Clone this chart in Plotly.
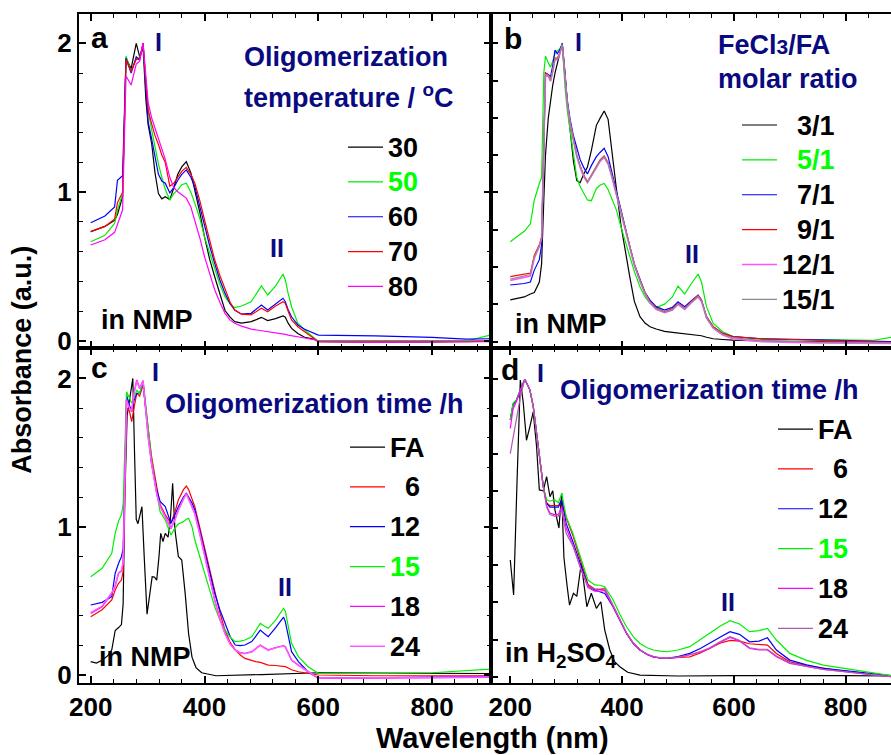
import plotly.graph_objects as go

W, H = 891, 755
FONT = "Liberation Sans, Arial, sans-serif"
NAVY = "#0a0a80"

# ---------------- Panel a : oligomerization temperature (in NMP) ----------------
wl_a = [200, 225, 242, 247, 256, 262, 271, 280, 286, 292, 297, 301, 307, 313, 319, 325, 331, 339, 346, 353,
        360, 368, 376, 383, 392, 400, 409, 418, 427, 436, 445, 453, 465, 482, 492, 500, 511, 525, 538, 542,
        547, 553, 564, 576, 594, 600, 700, 800, 860, 902]
a_30 = [0.735, 0.77, 0.81, 0.85, 0.97, 1.90, 1.83, 2.00, 1.91, 1.97, 1.62, 1.45, 1.33, 1.13, 0.99, 0.955, 0.97, 0.95, 1.03, 1.12,
        1.17, 1.205, 1.13, 1.015, 0.86, 0.70, 0.55, 0.43, 0.31, 0.205, 0.16, 0.13, 0.12, 0.13, 0.145, 0.159, 0.137, 0.15, 0.168, 0.16,
        0.12, 0.085, 0.05, 0.025, 0.011, 0.0, 0.0, -0.002, 0.0, 0.0]
a_50 = [0.667, 0.71, 0.79, 0.88, 0.99, 1.915, 1.81, 1.90, 1.90, 2.0, 1.72, 1.55, 1.42, 1.30, 1.19, 1.10, 1.02, 0.948, 0.99, 1.015,
        1.05, 1.06, 1.00, 0.925, 0.82, 0.70, 0.59, 0.477, 0.38, 0.298, 0.25, 0.224, 0.235, 0.264, 0.32, 0.37, 0.309, 0.37, 0.45, 0.41,
        0.32, 0.23, 0.12, 0.074, 0.018, -0.005, -0.01, -0.01, 0.0, 0.04]
a_60 = [0.795, 0.84, 0.90, 1.08, 1.11, 1.90, 1.80, 1.91, 1.89, 2.0, 1.70, 1.47, 1.36, 1.24, 1.12, 1.075, 1.06, 0.995, 1.03, 1.08,
        1.12, 1.15, 1.10, 1.037, 0.90, 0.77, 0.64, 0.52, 0.41, 0.32, 0.25, 0.208, 0.18, 0.186, 0.22, 0.242, 0.208, 0.25, 0.287, 0.264,
        0.21, 0.163, 0.108, 0.079, 0.052, 0.04, 0.035, 0.025, 0.012, 0.015]
a_70 = [0.735, 0.77, 0.82, 0.93, 1.00, 1.89, 1.81, 1.893, 1.89, 2.0, 1.74, 1.55, 1.46, 1.38, 1.32, 1.25, 1.20, 1.04, 1.06, 1.10,
        1.14, 1.167, 1.12, 1.06, 0.94, 0.813, 0.68, 0.544, 0.44, 0.343, 0.26, 0.208, 0.18, 0.175, 0.20, 0.22, 0.197, 0.235, 0.264, 0.253,
        0.20, 0.141, 0.096, 0.0625, 0.011, -0.005, -0.008, -0.008, -0.005, 0.0]
a_80 = [0.645, 0.68, 0.73, 0.78, 0.88, 1.78, 1.72, 1.86, 1.88, 2.0, 1.76, 1.60, 1.50, 1.43, 1.36, 1.30, 1.22, 1.10, 1.03, 1.003,
        0.98, 0.96, 0.90, 0.813, 0.69, 0.567, 0.45, 0.343, 0.26, 0.186, 0.14, 0.119, 0.10, 0.08, 0.074, 0.07, 0.062, 0.055, 0.047, 0.045,
        0.04, 0.035, 0.028, 0.02, 0.008, -0.005, -0.01, -0.01, -0.008, -0.005]

# ---------------- Panel b : FeCl3/FA molar ratio (in NMP) ----------------
wl_b = [200, 225, 236, 243, 252, 256, 260, 263, 268, 272, 276, 280, 284, 288, 293, 298, 302, 307, 313, 319,
        325, 331, 338, 345, 354, 361, 368, 375, 382, 390, 398, 406, 414, 422, 432, 441, 450, 461, 476, 490,
        500, 512, 524, 536, 542, 551, 563, 580, 598, 650, 750, 850, 882]
b_3 = [0.28, 0.30, 0.32, 0.33, 0.40, 0.52, 0.95, 1.25, 1.50, 1.62, 1.72, 1.80, 1.86, 1.92, 2.0, 1.80, 1.60, 1.42, 1.21, 1.08,
       1.066, 1.12, 1.17, 1.28, 1.45, 1.50, 1.546, 1.49, 1.26, 1.02, 0.78, 0.59, 0.43, 0.27, 0.168, 0.125, 0.10, 0.085, 0.07, 0.063,
       0.058, 0.052, 0.045, 0.043, 0.04, 0.03, 0.02, 0.015, 0.011, 0.005, 0.0, -0.005, -0.005]
b_5 = [0.67, 0.74, 0.79, 0.95, 1.06, 1.10, 1.80, 1.915, 1.87, 1.84, 1.88, 1.93, 1.95, 1.96, 1.995, 1.70, 1.55, 1.42, 1.24, 1.10,
       1.04, 1.00, 0.95, 0.945, 1.027, 1.05, 1.06, 1.02, 0.96, 0.88, 0.77, 0.67, 0.57, 0.47, 0.369, 0.30, 0.257, 0.23, 0.252, 0.30,
       0.373, 0.32, 0.39, 0.454, 0.40, 0.235, 0.123, 0.067, 0.034, 0.016, 0.015, 0.01, 0.03]
b_7 = [0.38, 0.39, 0.40, 0.48, 0.55, 0.65, 1.30, 1.80, 1.79, 1.776, 1.85, 1.955, 1.93, 1.95, 1.995, 1.78, 1.62, 1.49, 1.38, 1.30,
       1.22, 1.17, 1.124, 1.18, 1.24, 1.27, 1.296, 1.24, 1.13, 1.00, 0.88, 0.76, 0.637, 0.52, 0.413, 0.33, 0.279, 0.235, 0.212, 0.23,
       0.268, 0.235, 0.275, 0.313, 0.28, 0.168, 0.10, 0.056, 0.034, 0.02, 0.012, 0.005, 0.0]
b_9 = [0.436, 0.45, 0.46, 0.58, 0.65, 0.70, 1.40, 1.80, 1.79, 1.754, 1.82, 1.90, 1.90, 1.93, 1.99, 1.76, 1.60, 1.47, 1.35, 1.25,
       1.18, 1.12, 1.072, 1.12, 1.18, 1.22, 1.245, 1.20, 1.11, 0.99, 0.87, 0.75, 0.63, 0.52, 0.413, 0.33, 0.268, 0.225, 0.201, 0.22,
       0.257, 0.223, 0.27, 0.31, 0.28, 0.168, 0.10, 0.056, 0.034, 0.02, 0.01, 0.0, -0.005]
b_12 = [0.41, 0.43, 0.44, 0.56, 0.64, 0.69, 1.38, 1.78, 1.78, 1.745, 1.81, 1.89, 1.89, 1.92, 1.99, 1.75, 1.59, 1.46, 1.34, 1.24,
        1.17, 1.11, 1.065, 1.11, 1.17, 1.21, 1.235, 1.19, 1.10, 0.98, 0.86, 0.74, 0.62, 0.51, 0.405, 0.32, 0.26, 0.218, 0.195, 0.213,
        0.25, 0.217, 0.262, 0.30, 0.27, 0.16, 0.09, 0.045, 0.02, 0.0, -0.008, -0.01, -0.012]
b_15 = [0.42, 0.44, 0.45, 0.57, 0.64, 0.69, 1.39, 1.79, 1.785, 1.75, 1.815, 1.895, 1.895, 1.925, 1.99, 1.755, 1.595, 1.465, 1.345, 1.245,
        1.175, 1.115, 1.068, 1.115, 1.175, 1.215, 1.24, 1.195, 1.105, 0.985, 0.865, 0.745, 0.625, 0.515, 0.41, 0.325, 0.263, 0.22, 0.197, 0.215,
        0.252, 0.219, 0.265, 0.305, 0.275, 0.163, 0.095, 0.05, 0.027, 0.008, -0.003, -0.005, -0.008]

# ---------------- Panel c : oligomerization time (in NMP) ----------------
wl_c_fa = [200, 210, 220, 230, 237, 243, 249, 254, 257, 260, 264, 268, 274, 277, 280, 283, 286, 290, 294, 299,
           304, 308, 312, 316, 320, 323, 327, 331, 336, 340, 344, 348, 354, 360, 366, 372, 378, 385, 395, 420,
           500, 600, 700, 800, 903]
c_fa = [0.09, 0.08, 0.10, 0.13, 0.17, 0.30, 0.32, 0.34, 0.48, 1.20, 1.75, 1.85, 2.0, 1.50, 1.05, 1.02, 1.08, 1.135, 0.80, 0.41,
        0.55, 0.663, 0.66, 0.64, 0.80, 0.955, 0.90, 0.955, 0.93, 1.05, 1.293, 0.98, 0.80, 0.775, 0.55, 0.28, 0.12, 0.05, 0.015, -0.005,
        0.003, 0.015, 0.012, 0.01, 0.01]
wl_c = [200, 220, 237, 243, 249, 254, 257, 260, 263, 268, 272, 276, 281, 286, 292, 296, 301, 307, 316, 322,
        331, 336, 341, 348, 354, 363, 368, 372, 378, 383, 392, 401, 410, 418, 427, 436, 445, 454, 463, 471,
        483, 490, 498, 505, 512, 525, 539, 542, 548, 553, 565, 582, 600, 700, 800, 903]
c_6 = [0.393, 0.44, 0.506, 0.573, 0.618, 0.64, 0.70, 1.30, 1.80, 1.78, 1.708, 1.80, 1.90, 1.88, 1.955, 1.82, 1.65, 1.472, 1.27, 1.15,
       1.08, 1.05, 1.023, 1.10, 1.18, 1.25, 1.274, 1.25, 1.19, 1.135, 0.99, 0.843, 0.69, 0.551, 0.42, 0.303, 0.22, 0.169, 0.135, 0.112,
       0.095, 0.09, 0.085, 0.075, 0.067, 0.064, 0.061, 0.056, 0.045, 0.035, 0.022, 0.011, 0.0, -0.005, -0.005, -0.005]
c_12 = [0.472, 0.49, 0.528, 0.686, 0.753, 0.798, 0.85, 1.40, 1.888, 1.82, 1.776, 1.85, 1.90, 1.90, 1.97, 1.82, 1.63, 1.427, 1.248, 1.17,
        1.135, 1.08, 1.023, 1.08, 1.135, 1.20, 1.225, 1.20, 1.16, 1.113, 0.97, 0.82, 0.68, 0.551, 0.44, 0.348, 0.26, 0.202, 0.198, 0.202,
        0.225, 0.26, 0.303, 0.28, 0.258, 0.32, 0.39, 0.36, 0.25, 0.157, 0.09, 0.022, -0.022, -0.02, -0.015, -0.01]
c_15 = [0.663, 0.72, 0.82, 0.955, 1.04, 1.08, 1.15, 1.60, 1.91, 1.87, 1.832, 1.87, 1.92, 1.90, 1.978, 1.85, 1.675, 1.45, 1.225, 1.10,
        1.045, 0.99, 0.944, 0.99, 1.018, 1.034, 1.05, 1.056, 1.0, 0.91, 0.79, 0.663, 0.56, 0.46, 0.37, 0.303, 0.255, 0.225, 0.228, 0.236,
        0.258, 0.30, 0.348, 0.33, 0.315, 0.37, 0.45, 0.43, 0.32, 0.214, 0.124, 0.056, 0.011, 0.01, 0.015, 0.04]
c_18 = [0.416, 0.46, 0.551, 0.60, 0.686, 0.70, 0.75, 1.30, 1.854, 1.80, 1.776, 1.90, 1.99, 1.933, 1.985, 1.82, 1.607, 1.427, 1.225, 1.14,
        1.068, 1.03, 0.989, 1.05, 1.113, 1.19, 1.225, 1.19, 1.14, 1.09, 0.95, 0.798, 0.65, 0.506, 0.38, 0.281, 0.21, 0.169, 0.15, 0.146,
        0.157, 0.18, 0.202, 0.185, 0.169, 0.185, 0.198, 0.19, 0.14, 0.101, 0.067, 0.022, -0.022, -0.02, -0.018, -0.015]
c_24 = [0.42, 0.465, 0.555, 0.605, 0.69, 0.705, 0.755, 1.31, 1.85, 1.80, 1.78, 1.895, 1.985, 1.93, 1.98, 1.815, 1.60, 1.42, 1.22, 1.135,
        1.065, 1.025, 0.985, 1.045, 1.11, 1.185, 1.22, 1.185, 1.135, 1.085, 0.945, 0.795, 0.645, 0.50, 0.375, 0.278, 0.208, 0.167, 0.148, 0.144,
        0.155, 0.178, 0.20, 0.183, 0.167, 0.183, 0.196, 0.188, 0.138, 0.10, 0.066, 0.021, -0.021, -0.019, -0.017, -0.014]

# ---------------- Panel d : oligomerization time (in H2SO4) ----------------
wl_d_fa = [200, 206, 212, 218, 223, 229, 235, 241, 247, 252, 259, 265, 271, 276, 280, 287, 292, 296, 302, 306,
           313, 319, 327, 332, 337, 345, 354, 362, 369, 378, 387, 396, 410, 432, 500, 600, 700, 800, 881]
d_fa = [0.785, 0.55, 1.30, 1.995, 1.85, 1.59, 1.68, 1.78, 1.55, 1.256, 1.25, 1.345, 1.21, 1.25, 1.12, 1.0, 1.233, 0.80, 0.60, 0.482,
        0.561, 0.54, 0.763, 0.60, 0.471, 0.561, 0.46, 0.504, 0.314, 0.18, 0.10, 0.067, 0.03, 0.011, 0.005, 0.008, 0.01, 0.008, 0.005]
wl_d = [200, 205, 211, 218, 226, 235, 241, 247, 253, 259, 265, 271, 279, 286, 292, 300, 312, 327, 339, 351,
        360, 369, 384, 396, 408, 420, 432, 445, 456, 468, 480, 500, 521, 540, 557, 575, 593, 610, 628, 645,
        660, 676, 700, 730, 760, 790, 819, 850, 881]
d_6 = [1.726, 1.83, 1.86, 1.93, 2.0, 1.93, 1.82, 1.64, 1.44, 1.28, 1.17, 1.15, 1.15, 1.15, 1.19, 1.07, 0.95, 0.76, 0.62, 0.59,
       0.585, 0.583, 0.471, 0.38, 0.291, 0.225, 0.18, 0.15, 0.134, 0.126, 0.123, 0.13, 0.134, 0.16, 0.19, 0.225, 0.245, 0.24, 0.222, 0.215,
       0.213, 0.157, 0.10, 0.075, 0.056, 0.042, 0.03, 0.015, 0.0]
d_12 = [1.726, 1.83, 1.86, 1.93, 2.0, 1.93, 1.82, 1.64, 1.44, 1.28, 1.165, 1.14, 1.14, 1.14, 1.19, 1.031, 0.908, 0.739, 0.61, 0.583,
        0.57, 0.56, 0.471, 0.38, 0.291, 0.225, 0.18, 0.15, 0.134, 0.126, 0.123, 0.135, 0.157, 0.19, 0.224, 0.265, 0.303, 0.285, 0.235, 0.24,
        0.262, 0.18, 0.112, 0.08, 0.056, 0.045, 0.034, 0.02, 0.007]
d_15 = [1.726, 1.838, 1.861, 1.93, 2.0, 1.928, 1.816, 1.637, 1.435, 1.278, 1.19, 1.18, 1.19, 1.17, 1.233, 1.076, 0.964, 0.785, 0.65, 0.617,
        0.615, 0.605, 0.516, 0.42, 0.336, 0.27, 0.224, 0.195, 0.18, 0.172, 0.168, 0.18, 0.202, 0.25, 0.291, 0.34, 0.377, 0.355, 0.303, 0.31,
        0.325, 0.247, 0.157, 0.11, 0.078, 0.06, 0.045, 0.025, 0.007]
d_18 = [1.67, 1.80, 1.85, 1.92, 2.0, 1.93, 1.82, 1.64, 1.44, 1.28, 1.15, 1.10, 1.09, 1.09, 1.143, 1.00, 0.886, 0.717, 0.60, 0.575,
        0.575, 0.58, 0.471, 0.38, 0.291, 0.225, 0.18, 0.15, 0.134, 0.126, 0.123, 0.13, 0.146, 0.165, 0.19, 0.23, 0.264, 0.24, 0.19, 0.18,
        0.18, 0.134, 0.09, 0.068, 0.049, 0.037, 0.027, 0.012, 0.0]
d_24 = [1.50, 1.60, 1.72, 1.88, 2.0, 1.93, 1.82, 1.64, 1.44, 1.28, 1.14, 1.09, 1.08, 1.08, 1.12, 0.964, 0.88, 0.717, 0.61, 0.59,
        0.59, 0.595, 0.48, 0.385, 0.295, 0.228, 0.182, 0.152, 0.136, 0.128, 0.125, 0.132, 0.148, 0.17, 0.195, 0.235, 0.27, 0.245, 0.195, 0.185,
        0.185, 0.14, 0.095, 0.07, 0.05, 0.038, 0.028, 0.013, 0.0]

BLACK, GREEN, BLUE, RED, MAG, GRAY = "#000000", "#00ee00", "#0000ff", "#ff0000", "#ff00ff", "#8c8c8c"

fig = go.Figure()


def label(txt, col="#000000"):
    return "<span style='font-size:27px;color:%s'>%s</span>" % (col, txt)


def add(ax, wl, ys, name, color, leg, grp, width=1.2, tcol="#000000"):
    fig.add_trace(go.Scatter(x=wl, y=ys, mode="lines", name=label(name, tcol),
                             line=dict(color=color, width=width), legend=leg, legendgroup=grp,
                             xaxis="x" + ax, yaxis="y" + ax, hoverinfo="skip"))


NB = "&nbsp;&nbsp;"
# panel a
add("", wl_a, a_30, "30", BLACK, "legend", "a1")
add("", wl_a, a_50, "50", GREEN, "legend", "a2", tcol="#00ff00")
add("", wl_a, a_60, "60", BLUE, "legend", "a3")
add("", wl_a, a_70, "70", RED, "legend", "a4")
add("", wl_a, a_80, "80", MAG, "legend", "a5")
# panel b
add("2", wl_b, b_3, NB + "3/1", BLACK, "legend2", "b1")
add("2", wl_b, b_5, NB + "5/1", GREEN, "legend2", "b2", tcol="#00ff00")
add("2", wl_b, b_7, NB + "7/1", BLUE, "legend2", "b3")
add("2", wl_b, b_9, NB + "9/1", RED, "legend2", "b4")
add("2", wl_b, b_12, "12/1", "#ff55ff", "legend2", "b5", width=1.6)
add("2", wl_b, b_15, "15/1", GRAY, "legend2", "b6")
# panel c
add("3", wl_c_fa, c_fa, "FA", BLACK, "legend3", "c1")
add("3", wl_c, c_6, NB + "6", RED, "legend3", "c2")
add("3", wl_c, c_12, "12", BLUE, "legend3", "c3")
add("3", wl_c, c_15, "15", GREEN, "legend3", "c4", tcol="#00ff00")
add("3", wl_c, c_18, "18", MAG, "legend3", "c5", width=1.4)
add("3", wl_c, c_24, "24", "#ff5cff", "legend3", "c6", width=1.4)
# panel d
add("4", wl_d_fa, d_fa, "FA", BLACK, "legend4", "d1")
add("4", wl_d, d_6, NB + "6", RED, "legend4", "d2")
add("4", wl_d, d_12, "12", BLUE, "legend4", "d3")
add("4", wl_d, d_15, "15", GREEN, "legend4", "d4", tcol="#00ff00")
add("4", wl_d, d_18, "18", MAG, "legend4", "d5")
add("4", wl_d, d_24, "24", "#b25ab2", "legend4", "d6")

XL = [79 / W, 490.7 / W]
XR = [490.7 / W, 1.0]
YT = [1 - 348 / H, 1 - 14 / H]
YB = [1 - 683 / H, 1 - 348 / H]
TICKF = dict(family=FONT, size=26, color="black", weight="bold")


def xax(domain, rng, anchor, labels):
    return dict(domain=domain, range=rng, anchor=anchor, showgrid=False, zeroline=False,
                showline=True, linewidth=2, linecolor="black", mirror="ticks",
                ticks="inside", ticklen=7, tickwidth=1.5, tickcolor="black",
                tick0=200, dtick=200, showticklabels=labels, tickfont=TICKF, automargin=False,
                minor=dict(ticks="inside", ticklen=4, tickwidth=1, tickcolor="black", dtick=40, tick0=200))


def yax(domain, rng, anchor, labels, dtick, minor_dtick, mirror):
    d = dict(domain=domain, range=rng, anchor=anchor, showgrid=False, zeroline=False,
             showline=True, linewidth=2, linecolor="black", mirror=mirror,
             ticks="inside", ticklen=7, tickwidth=1.5, tickcolor="black", automargin=False,
             tick0=0, dtick=dtick, showticklabels=labels, tickfont=TICKF)
    if minor_dtick:
        d["minor"] = dict(ticks="inside", ticklen=4, tickwidth=1, tickcolor="black", dtick=minor_dtick, tick0=0)
    return d


LEGF = dict(family=FONT, size=24.5, color="black", weight="bold")


def leg(px, py, gap):
    return dict(x=px / W, y=1 - py / H, xanchor="left", yanchor="top", bgcolor="rgba(0,0,0,0)",
                borderwidth=0, font=LEGF, itemwidth=35, tracegroupgap=gap, traceorder="grouped",
                itemclick=False, itemdoubleclick=False)


annotations = []


def ann(text, px, py, size, color="black", xanchor="center", angle=0):
    annotations.append(dict(text=text, x=px / W, y=1 - py / H, xref="paper", yref="paper",
                            xanchor=xanchor, yanchor="middle", showarrow=False, textangle=angle,
                            font=dict(family=FONT, size=size, color=color, weight="bold")))


# panel letters
ann("a", 99, 37.5, 30)
ann("b", 513, 38.5, 30)
ann("c", 99, 367, 30)
ann("d", 510, 369, 30)
# band labels
ann("I", 158.3, 41.7, 25, NAVY)
ann("II", 277, 247.5, 25, NAVY)
ann("I", 578, 41.7, 25, NAVY)
ann("II", 692, 254, 25, NAVY)
ann("I", 155.5, 371.7, 25, NAVY)
ann("II", 285, 586.7, 25, NAVY)
ann("I", 540.5, 373, 25, NAVY)
ann("II", 728, 602, 25, NAVY)
# solvent labels
ann("in NMP", 99, 320, 27, xanchor="left")
ann("in NMP", 513, 323.5, 27, xanchor="left")
ann("in NMP", 96.5, 657, 27, xanchor="left")
ann("in H<sub>2</sub>SO<sub>4</sub>", 503, 655, 27, xanchor="left")
# legend titles
ann("Oligomerization", 242, 57, 27, NAVY, xanchor="left")
ann("temperature / <sup>o</sup>C", 242, 96, 27, NAVY, xanchor="left")
ann("FeCl<span style='font-size:21px'>3</span>/FA", 716, 45, 27, NAVY, xanchor="left")
ann("molar ratio", 716, 79, 27, NAVY, xanchor="left")
ann("Oligomerization time /h", 163, 403.5, 27, NAVY, xanchor="left")
ann("Oligomerization time /h", 558, 390, 27, NAVY, xanchor="left")
# axis titles
ann("Absorbance (a.u.)", 21.7, 360, 27, angle=-90)
ann("Wavelength (nm)", 492.5, 738, 29)

fig.update_layout(
    width=W, height=H, autosize=False, margin=dict(l=0, r=0, t=0, b=0, autoexpand=False),
    paper_bgcolor="white", plot_bgcolor="white", showlegend=True,
    xaxis=xax(XL, [179.4, 903], "y", False),
    yaxis=yax(YT, [-0.047, 2.197], "x", True, 1, 0.2, "ticks"),
    xaxis2=xax(XR, [165, 881], "y2", False),
    yaxis2=yax(YT, [-0.042, 2.196], "x2", False, 0.25, None, False),
    xaxis3=xax(XL, [179.4, 903], "y3", True),
    yaxis3=yax(YB, [-0.054, 2.205], "x3", True, 1, 0.2, "ticks"),
    xaxis4=xax(XR, [165, 881], "y4", True),
    yaxis4=yax(YB, [-0.042, 2.21], "x4", False, 0.25, None, False),
    legend=leg(343, 124.6, 0),
    legend2=leg(737, 102.6, 0),
    legend3=leg(345, 424.6, 5),
    legend4=leg(773, 406.6, 5),
    annotations=annotations,
)

fig.write_html("out.html")
